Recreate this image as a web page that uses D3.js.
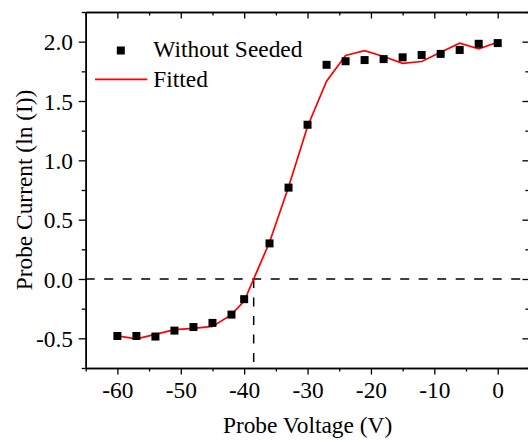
<!DOCTYPE html>
<html>
<head>
<meta charset="utf-8">
<script src="https://cdn.jsdelivr.net/npm/d3@7"></script>
<style>
  body { margin: 0; background: #fff; }
  text { font-family: "Liberation Serif", "Times New Roman", serif; fill: #000; }
</style>
</head>
<body>
<div id="chart"></div>
<script>
// probe voltage (V) for each measured point
var voltage = [-60, -57, -54, -51, -48, -45, -42, -40, -36, -33, -30, -27, -24, -21, -18, -15, -12, -9, -6, -3, 0];
// ln(I), without seeded
var measured = [-0.48, -0.48, -0.485, -0.435, -0.405, -0.37, -0.30, -0.17, 0.30, 0.77, 1.30, 1.805, 1.835, 1.845, 1.853, 1.868, 1.888, 1.897, 1.93, 1.982, 1.988];
// fitted curve
var fitted = [-0.48, -0.505, -0.467, -0.427, -0.416, -0.40, -0.30, -0.186, 0.31, 0.775, 1.285, 1.667, 1.883, 1.925, 1.875, 1.818, 1.833, 1.911, 1.987, 1.939, 1.995];

var xTicks = [-60, -50, -40, -30, -20, -10, 0];
var xMinor = [-65, -55, -45, -35, -25, -15, -5, 5];
var yTicks = [-0.5, 0.0, 0.5, 1.0, 1.5, 2.0];
var yMinor = [-0.75, -0.25, 0.25, 0.75, 1.25, 1.75, 2.25];

var floatingVoltage = -38.5;   // where the fit crosses zero
var legendNames = ["Without Seeded", "Fitted"];

var width = 528;
var height = 442;
// plot box (right edge sits just past the picture)
var plotLeft = 85.7, plotRight = 529.4, plotTop = 12, plotBottom = 368;
var fontSize = "23.4px";

var svg = d3.select('#chart')
  .append('svg')
  .attr('width', width)
  .attr('height', height);

var x = d3.scaleLinear().domain([-65, 5]).range([plotLeft, plotRight]);
var y = d3.scaleLinear().domain([-0.75, 2.25]).range([plotBottom, plotTop]);

// dashed reference lines
svg.append('line')
  .attr('x1', x(-65)).attr('x2', x(5))
  .attr('y1', y(0)).attr('y2', y(0))
  .attr('stroke', '#000').attr('stroke-width', 1.5)
  .attr('stroke-dasharray', '9,9.5');

svg.append('line')
  .attr('x1', x(floatingVoltage)).attr('x2', x(floatingVoltage))
  .attr('y1', y(0)).attr('y2', y(-0.75))
  .attr('stroke', '#000').attr('stroke-width', 1.5)
  .attr('stroke-dasharray', '9,9.5');

// fitted line
var line = d3.line()
  .x(function(d, i) { return x(voltage[i]); })
  .y(function(d) { return y(d); });

svg.append('path')
  .datum(fitted)
  .attr('fill', 'none')
  .attr('stroke', '#ff0000')
  .attr('stroke-width', 1.7)
  .attr('d', line);

// measured points
svg.append('g')
  .selectAll('rect')
  .data(measured)
  .enter().append('rect')
    .attr('x', function(d, i) { return x(voltage[i]) - 4; })
    .attr('y', function(d) { return y(d) - 4; })
    .attr('width', 8)
    .attr('height', 8)
    .attr('fill', '#000');

// axes
function styleAxis(g) {
  g.select('.domain').attr('stroke', '#000').attr('stroke-width', 1.5);
  g.selectAll('.tick line').attr('stroke', '#000').attr('stroke-width', 1.3);
  g.selectAll('text').style('font-size', fontSize).style('font-family', '"Liberation Serif", "Times New Roman", serif');
}

var fmt = function(d) { return d.toFixed(0); };
var fmtY = function(d) { return d.toFixed(1); };

var gBottom = svg.append('g').attr('transform', 'translate(0,' + plotBottom + ')')
  .call(d3.axisBottom(x).tickValues(xTicks).tickFormat(fmt).tickSizeInner(6.5).tickSizeOuter(0));
gBottom.selectAll('text').attr('y', 30).attr('dy', 0);
styleAxis(gBottom);
svg.append('g').attr('transform', 'translate(0,' + plotBottom + ')')
  .call(d3.axisBottom(x).tickValues(xMinor).tickFormat('').tickSizeInner(3.5).tickSizeOuter(0))
  .call(styleAxis);

svg.append('g').attr('transform', 'translate(0,' + plotTop + ')')
  .call(d3.axisTop(x).tickValues(xTicks).tickFormat('').tickSizeInner(-6.5).tickSizeOuter(0))
  .call(styleAxis);
svg.append('g').attr('transform', 'translate(0,' + plotTop + ')')
  .call(d3.axisTop(x).tickValues(xMinor).tickFormat('').tickSizeInner(-3.5).tickSizeOuter(0))
  .call(styleAxis);

var gLeft = svg.append('g').attr('transform', 'translate(' + plotLeft + ',0)')
  .call(d3.axisLeft(y).tickValues(yTicks).tickFormat(fmtY).tickSizeInner(7).tickSizeOuter(0));
gLeft.selectAll('text').attr('x', -12.7).attr('dy', '0.35em');
styleAxis(gLeft);
svg.append('g').attr('transform', 'translate(' + plotLeft + ',0)')
  .call(d3.axisLeft(y).tickValues(yMinor).tickFormat('').tickSizeInner(4).tickSizeOuter(0))
  .call(styleAxis);

svg.append('g').attr('transform', 'translate(' + plotRight + ',0)')
  .call(d3.axisRight(y).tickValues(yTicks).tickFormat('').tickSizeInner(-7).tickSizeOuter(0))
  .call(styleAxis);
svg.append('g').attr('transform', 'translate(' + plotRight + ',0)')
  .call(d3.axisRight(y).tickValues(yMinor).tickFormat('').tickSizeInner(-4).tickSizeOuter(0))
  .call(styleAxis);

// axis titles
svg.append('text')
  .attr('x', (plotLeft + plotRight) / 2)
  .attr('y', 433)
  .attr('text-anchor', 'middle')
  .style('font-size', fontSize)
  .text('Probe Voltage (V)');

svg.append('text')
  .attr('transform', 'rotate(-90)')
  .attr('x', -(plotTop + plotBottom) / 2)
  .attr('y', 31.5)
  .attr('text-anchor', 'middle')
  .style('font-size', fontSize)
  .text('Probe Current (ln (I))');

// legend
var legend = svg.append('g');
legend.append('rect')
  .attr('x', 116.8).attr('y', 46.5)
  .attr('width', 8).attr('height', 8)
  .attr('fill', '#000');
legend.append('text')
  .attr('x', 153.3).attr('y', 57.3)
  .style('font-size', fontSize)
  .text(legendNames[0]);
legend.append('line')
  .attr('x1', 95).attr('x2', 147.3)
  .attr('y1', 79.3).attr('y2', 79.3)
  .attr('stroke', '#ff0000').attr('stroke-width', 1.7);
legend.append('text')
  .attr('x', 153.3).attr('y', 87.3)
  .style('font-size', fontSize)
  .text(legendNames[1]);
</script>
</body>
</html>
